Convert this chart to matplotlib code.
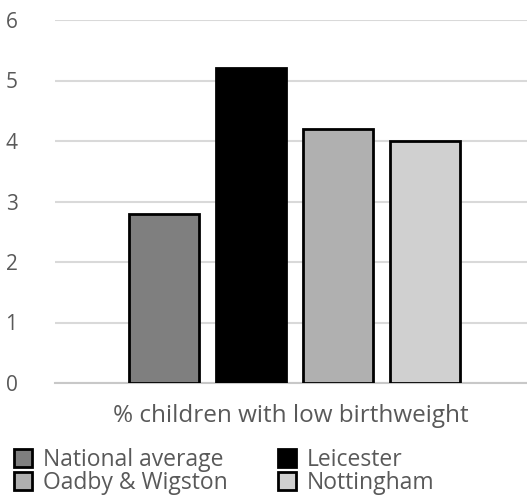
import numpy as np
import matplotlib.pyplot as plt

areas = ['National average', 'Leicester', 'Oadby & Wigston', 'Nottingham']
values = [2.8, 5.2, 4.2, 4.0]
colors = ['#7f7f7f', '#000000', '#b0b0b0', '#d0d0d0']
yticks = [0, 1, 2, 3, 4, 5, 6]

plt.rcParams['font.family'] = ['Open Sans', 'DejaVu Sans']

fig = plt.figure(figsize=(5.27, 4.97), dpi=100)
ax = fig.add_axes([55 / 527, 1 - 383 / 497, 1 - 55 / 527, (383 - 20) / 497])

x = np.arange(len(areas))
bars = ax.bar(x, values, width=0.8, color=colors, edgecolor='black',
              linewidth=2, zorder=3, label=areas)

ax.set_ylim(0, 6)
ax.set_xlim(-1.25, 4.17)
ax.set_yticks(yticks)
ax.set_xticks([])
ax.yaxis.grid(True, color='#d9d9d9', linewidth=1.5, zorder=0)
for s in ['top', 'right', 'left']:
    ax.spines[s].set_visible(False)
ax.spines['bottom'].set_color('#c8c8c8')
ax.spines['bottom'].set_linewidth(1.5)
ax.tick_params(axis='y', length=0, labelsize=15, labelcolor='#595959', pad=27)

ax.set_xlabel('% children with low birthweight', fontsize=17.5,
              color='#595959', labelpad=15)

order = [0, 2, 1, 3]
handles = [bars[i] for i in order]
labels = [areas[i] for i in order]
fig.legend(handles, labels, ncol=2, loc='lower left',
           bbox_to_anchor=(-0.008, -0.033), frameon=False, fontsize=16.5,
           labelcolor='#595959', handlelength=0.8, handleheight=0.8,
           handletextpad=0.45, columnspacing=2.2, labelspacing=-0.05,
           borderpad=0.3)

fig.savefig('out.png', dpi=100)
